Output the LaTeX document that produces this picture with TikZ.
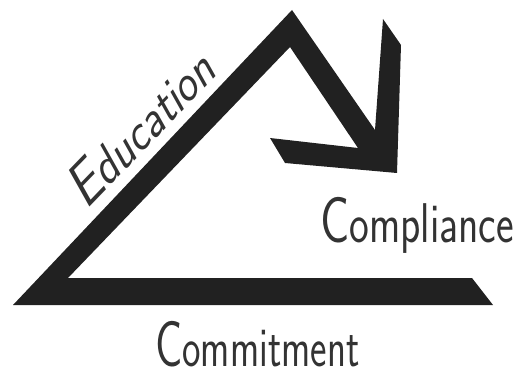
\documentclass[tikz,border=0pt]{standalone}
\usepackage{fontspec}
\newcommand{\decoword}[4]{\scalebox{#4}[1]{{\fontsize{#1}{#1}\selectfont #2}{\fontsize{56}{56}\selectfont #3}}}
\begin{document}
\begin{tikzpicture}[x=1pt,y=-1pt,
  bar/.style={fill=black!87,draw=none},
  lbl/.style={inner sep=0pt,font=\sffamily,text=black!80}]
\useasboundingbox (0,0) rectangle (516,371);
\fill[bar] (13,305) -- (292,10) -- (375,130) -- (383,19) -- (401,45)
  -- (397,173) -- (285,163) -- (270,138) -- (358,148) -- (290,47)
  -- (68,278) -- (472,278) -- (493,305) -- cycle;
\node[lbl,anchor=base west] (comp) at (320,243) {\decoword{65}{C}{ompliance}{0.75}};
\node[lbl,anchor=base west] (commit) at (155,366) {\decoword{65}{C}{ommitment}{0.7}};
\node[lbl,anchor=base west,rotate=46,xslant=0.3,transform shape] (edu) at (86,211)
  {\scalebox{0.95}[1]{{\fontsize{58}{58}\selectfont E}{\fontsize{50}{50}\selectfont ducation}}};
\end{tikzpicture}
\end{document}
